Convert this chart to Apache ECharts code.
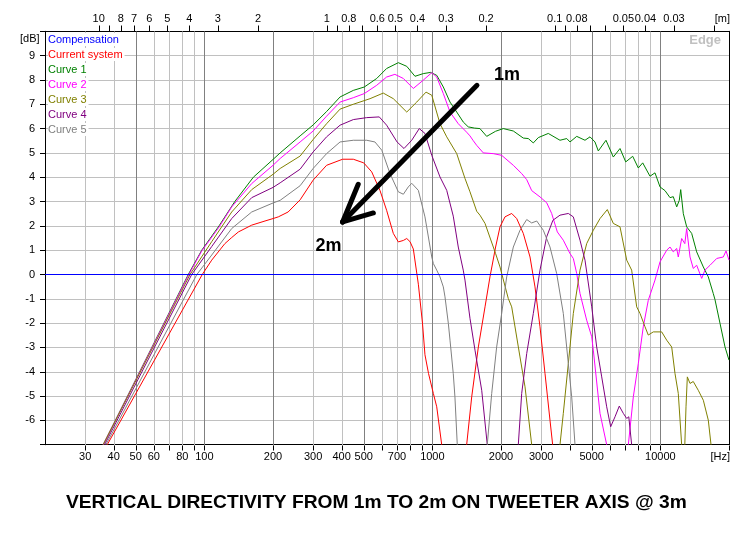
<!DOCTYPE html>
<html><head><meta charset="utf-8">
<script src="https://cdn.jsdelivr.net/npm/echarts/dist/echarts.min.js"></script>
<style>html,body{margin:0;padding:0;background:#fff}#c{width:746px;height:541px}</style>
</head><body><div id="c"></div>
<script>
// ---------- axis definitions ----------
const X_MIN = 20, X_MAX = 20000, Y_MIN = -7, Y_MAX = 10;
const SOUND_SPEED = 344; // m/s, for the wavelength axis
const HZ_GRID = [30,40,50,60,70,80,90,100,200,300,400,500,600,700,800,900,1000,2000,3000,4000,5000,6000,7000,8000,9000,10000,20000];
const HZ_MAJOR = [50,100,200,500,1000,2000,5000,10000];
const HZ_LABELS = [30,40,50,60,80,100,200,300,400,500,700,1000,2000,3000,5000,10000];
const M_TICKS = [10,9,8,7,6,5,4,3,2,1,0.9,0.8,0.7,0.6,0.5,0.4,0.3,0.2,0.1,0.09,0.08,0.07,0.06,0.05,0.04,0.03,0.02];
const M_LABELS = [10,8,7,6,5,4,3,2,1,0.8,0.6,0.5,0.4,0.3,0.2,0.1,0.08,0.05,0.04,0.03];

// ---------- series ([Hz, dB]) ----------
const SERIES_NAMES = ['Compensation','Current system','Curve 1','Curve 2','Curve 3','Curve 4','Curve 5'];
const COMPENSATION = [[20,0],[20000,0]];
const CURRENT_SYSTEM = [[37.5,-7],[97.9,0],[107.7,0.59],[123,1.27],[131.8,1.52],[141,1.75],[161.3,2.03],[184.5,2.2],[200,2.3],[211,2.37],[233,2.57],[263,3.07],[300,3.88],[343.6,4.49],[404,4.74],[450,4.74],[500,4.59],[542,4.22],[589,3.46],[630,2.64],[674,1.69],[709,1.34],[746,1.4],[772,1.48],[798,1.35],[825,1.05],[868,-0.4],[905,-2.0],[928,-3.3],[962,-4.07],[1010,-4.89],[1045,-5.44],[1099,-7],'-',[1414,-7],[1488,-5.03],[1591,-2.98],[1702,-1.33],[1789,-0.1],[1894,1.13],[1980,1.96],[2082,2.37],[2228,2.51],[2344,2.3],[2505,1.69],[2681,0.72],[2819,-0.51],[2965,-2.15],[3119,-4.07],[3280,-5.99],[3370,-7]];
const CURVE_1 = [[36,-7],[85,0],[97.4,1],[116,2],[136,3],[164,4],[200,4.73],[215,5.0],[263,5.7],[300,6.15],[343.6,6.7],[393.7,7.3],[450,7.57],[503,7.71],[570,8.06],[630,8.47],[709,8.71],[772,8.56],[839,8.15],[912,8.26],[983,8.31],[1045,8.19],[1117,7.71],[1195,7.09],[1279,6.68],[1366,6.27],[1437,6.07],[1530,6.02],[1617,6.0],[1731,5.68],[1894,5.89],[2047,6.0],[2265,5.9],[2505,5.61],[2635,5.59],[2772,5.41],[2916,5.63],[3224,5.8],[3629,5.52],[3885,5.59],[4015,5.45],[4297,5.68],[4671,5.52],[4914,5.66],[5167,5.45],[5343,5.08],[5775,5.52],[6217,4.83],[6653,5.18],[7048,4.63],[7563,4.86],[8003,4.38],[8367,4.59],[9006,4.04],[9472,4.18],[9965,3.6],[10479,3.45],[11024,3.16],[11394,3.2],[11794,2.78],[12106,3.05],[12281,3.49],[12608,2.5],[13045,1.96],[13720,1.69],[14430,0.93],[15430,0.31],[16227,-0.1],[17060,-0.78],[17360,-1.03],[18267,-2.01],[19210,-2.98],[20000,-3.52]];
const CURVE_2 = [[36,-7],[85.5,0],[97.4,0.97],[116,1.95],[131.8,2.78],[161.3,3.74],[200,4.49],[215,4.77],[263,5.45],[300,5.9],[343.6,6.51],[393.7,7.09],[450,7.27],[503,7.44],[570,7.78],[630,8.12],[685,8.23],[746,8.06],[825,7.65],[912,7.99],[994,8.3],[1045,8.12],[1117,7.44],[1195,6.68],[1299,6.2],[1414,5.85],[1462,5.7],[1512,5.5],[1565,5.31],[1673,5.0],[1850,4.97],[2014,4.9],[2265,4.49],[2465,4.15],[2593,3.9],[2727,3.45],[2965,3.19],[3173,2.95],[3336,2.51],[3533,1.75],[3752,1.41],[4015,0.86],[4152,0.66],[4297,0.04],[4442,-0.78],[4751,-1.88],[5000,-2.56],[5081,-3.11],[5436,-5.71],[5816,-7],'-',[7236,-7],[7610,-5.03],[8003,-3.66],[8415,-2.15],[8852,-1.06],[9472,-0.23],[9965,0.52],[10661,1.0],[11024,1.13],[11394,0.93],[11794,1.07],[11985,0.72],[12400,1.48],[12800,1.27],[13045,1.89],[13492,0.72],[13940,0.25],[14430,0.38],[15180,-0.16],[15690,0.18],[16512,0.38],[17670,0.66],[18880,0.72],[19410,0.97],[20000,0.59]];
const CURVE_3 = [[36,-7],[86.5,0],[107.7,1.35],[131.8,2.57],[161.3,3.49],[200,4.12],[215,4.36],[263,4.87],[300,5.55],[343.6,6.2],[393.7,6.8],[450,7.0],[533,7.23],[609,7.46],[674,7.23],[772,6.68],[854,7.09],[938,7.5],[994,7.37],[1080,6.2],[1156,5.66],[1279,4.97],[1390,3.95],[1462,3.4],[1565,2.6],[1617,2.44],[1702,2.1],[1894,0.86],[1980,0.31],[2014,0.04],[2153,-0.99],[2228,-1.33],[2423,-3.39],[2549,-4.62],[2727,-7],'-',[3629,-7],[3752,-5.71],[3947,-3.66],[4152,-1.6],[4442,0.18],[4751,1.27],[5081,1.82],[5436,2.3],[5853,2.67],[6217,2.1],[6653,1.96],[7119,0.59],[7484,0.18],[7874,-1.33],[8142,-1.6],[8563,-2.15],[8852,-2.49],[9311,-2.36],[10135,-2.36],[10661,-2.7],[11213,-2.98],[11592,-4.07],[11985,-4.89],[12400,-7],'-',[12800,-7],[12956,-5.44],[13130,-4.21],[13492,-4.48],[13940,-4.4],[14663,-4.76],[15430,-5.17],[16227,-5.99],[16680,-7]];
const CURVE_4 = [[36.5,-7],[88,0],[107.7,1.15],[131.8,2.3],[161.3,3.16],[200,3.58],[215,3.77],[263,4.33],[300,5.04],[343.6,5.66],[393.7,6.14],[450,6.37],[515,6.45],[585,6.48],[630,6.14],[700,5.45],[751,5.18],[812,5.52],[876,6.0],[928,5.8],[994,4.9],[1080,4.01],[1156,3.46],[1235,2.4],[1299,1.13],[1366,0.18],[1390,-0.23],[1462,-1.8],[1538,-3.11],[1646,-4.76],[1741,-7],'-',[2382,-7],[2465,-4.89],[2593,-3.25],[2772,-1.6],[2965,0.18],[3173,1.55],[3378,2.23],[3629,2.44],[3947,2.51],[4152,2.37],[4442,1.41],[4671,0.59],[5000,-1.33],[5257,-2.98],[5530,-4.21],[5816,-5.44],[6055,-6.26],[6326,-5.85],[6605,-5.41],[6879,-5.71],[7119,-5.92],[7270,-5.85],[7484,-7]];
const CURVE_5 = [[37,-7],[92.7,0],[107.7,0.8],[131.8,1.89],[161.3,2.57],[200,2.94],[215,3.05],[263,3.65],[300,4.36],[343.6,4.97],[393.7,5.45],[450,5.52],[515,5.52],[560,5.45],[600,5.11],[652,4.15],[709,3.4],[746,3.3],[784,3.6],[812,3.75],[868,3.46],[928,2.37],[944,1.96],[994,0.72],[1010,0.45],[1045,0.18],[1080,-0.1],[1117,-0.51],[1136,-0.92],[1175,-2.01],[1195,-2.7],[1235,-4.07],[1256,-5.03],[1286,-7],'-',[1741,-7],[1821,-4.89],[1914,-2.98],[2014,-1.6],[2118,-0.1],[2265,1.13],[2423,1.82],[2593,2.26],[2727,2.12],[2869,2.2],[3066,1.82],[3280,1.13],[3509,0.04],[3752,-1.6],[3947,-3.66],[4084,-5.03],[4223,-7]];
const SERIES_DATA = [COMPENSATION, CURRENT_SYSTEM, CURVE_1, CURVE_2, CURVE_3, CURVE_4, CURVE_5];

// ---------- annotations (data coordinates) ----------
const ARROW_TAIL = [1569, 7.78];
const ARROW_TIP = [404, 2.16];
const ARROW_WING_A = [473, 3.71];
const ARROW_WING_B = [551, 2.53];
const LABEL_1M = [2124, 8.19];
const LABEL_2M = [350, 1.18];

// ---------- styles ----------
const COLORS = ['#0000ff','#ff0000','#008000','#ff00ff','#808000','#800080','#808080'];
const FONT = 'Arial, "Liberation Sans", sans-serif';
const GRID_MINOR = '#c0c0c0', GRID_MAJOR = '#808080';

const chart = echarts.init(document.getElementById('c'), null, {renderer: 'canvas'});

function hzRender(params, api) {
  const f = api.value(0);
  const t = api.coord([f, Y_MAX]);
  const b = api.coord([f, Y_MIN]);
  const x = Math.round(b[0]) + 0.5;
  const yt = Math.round(t[1]) + 0.5, yb = Math.round(b[1]) + 0.5;
  const ch = [];
  if (f < X_MAX) {
    ch.push({type: 'line', shape: {x1: x, y1: yt, x2: x, y2: yb},
      style: {stroke: HZ_MAJOR.includes(f) ? GRID_MAJOR : GRID_MINOR, lineWidth: 1}});
  }
  ch.push({type: 'line', shape: {x1: x, y1: yb, x2: x, y2: yb + 5}, style: {stroke: '#000', lineWidth: 1}});
  if (HZ_LABELS.includes(f)) {
    ch.push({type: 'text', x: b[0], y: b[1] + 12,
      style: {text: String(f), align: 'center', verticalAlign: 'middle', textAlign: 'center', textVerticalAlign: 'middle',
        fontSize: 11, fontFamily: FONT, fill: '#000'}});
  }
  if (f === X_MAX) {
    ch.push({type: 'text', x: b[0] + 1, y: b[1] + 12,
      style: {text: '[Hz]', align: 'right', verticalAlign: 'middle', textAlign: 'right', textVerticalAlign: 'middle',
        fontSize: 11, fontFamily: FONT, fill: '#000'}});
  }
  return {type: 'group', children: ch};
}

function mRender(params, api) {
  const f = api.value(0);
  const m = api.value(2);
  const t = api.coord([f, Y_MAX]);
  const x = Math.round(t[0]) + 0.5;
  const yt = Math.round(t[1]) + 0.5;
  const ch = [];
  ch.push({type: 'line', shape: {x1: x, y1: yt - 6, x2: x, y2: yt}, style: {stroke: '#000', lineWidth: 1}});
  if (M_LABELS.includes(m)) {
    ch.push({type: 'text', x: t[0], y: t[1] - 12,
      style: {text: String(m), align: 'center', verticalAlign: 'middle', textAlign: 'center', textVerticalAlign: 'middle',
        fontSize: 11, fontFamily: FONT, fill: '#000'}});
  }
  if (m === M_TICKS[M_TICKS.length - 1]) {
    const r = api.coord([X_MAX, Y_MAX]);
    ch.push({type: 'text', x: r[0] + 1, y: r[1] - 12,
      style: {text: '[m]', align: 'right', verticalAlign: 'middle', textAlign: 'right', textVerticalAlign: 'middle',
        fontSize: 11, fontFamily: FONT, fill: '#000'}});
  }
  return {type: 'group', children: ch};
}

const lineSeries = SERIES_NAMES.map((name, i) => {
  const s = {
    type: 'line', name: name, data: SERIES_DATA[i],
    showSymbol: false, symbol: 'none', clip: true, connectNulls: false,
    lineStyle: {width: 1, color: COLORS[i]}, itemStyle: {color: COLORS[i]},
    emphasis: {disabled: true}, animation: false, z: i === 0 ? 4 : 3
  };
  if (i === 0) {
    s.markLine = {
      silent: true, symbol: ['none', 'none'], animation: false,
      label: {show: false},
      lineStyle: {color: '#000', width: 5, type: 'solid', cap: 'round'},
      emphasis: {disabled: true},
      data: [
        [{coord: ARROW_TAIL}, {coord: ARROW_TIP}],
        [{coord: ARROW_TIP}, {coord: ARROW_WING_A}],
        [{coord: ARROW_TIP}, {coord: ARROW_WING_B}]
      ]
    };
    s.markPoint = {
      silent: true, symbol: 'circle', symbolSize: 0, animation: false,
      label: {show: true, position: 'inside', formatter: '{b}', fontSize: 18, fontWeight: 'bold', fontFamily: FONT, color: '#000'},
      data: [{name: '1m', coord: LABEL_1M}, {name: '2m', coord: LABEL_2M}]
    };
  }
  return s;
});

const option = {
  backgroundColor: '#fff',
  animation: false,
  textStyle: {fontFamily: FONT},
  title: {
    text: 'VERTICAL DIRECTIVITY FROM 1m TO 2m ON TWEETER AXIS @ 3m',
    left: 61, top: 488,
    textStyle: {fontSize: 19.2, fontWeight: 'bold', fontFamily: FONT, color: '#000'}
  },
  grid: {left: 45, top: 31.3, right: 17, height: 413.44, containLabel: false, outerBoundsMode: 'none'},
  legend: {
    orient: 'vertical', left: 43, top: 33, padding: 0, itemGap: 2,
    itemWidth: 0, itemHeight: 13, icon: 'none', selectedMode: false,
    data: SERIES_NAMES.map((n, i) => ({name: n, textStyle: {color: COLORS[i]}})),
    textStyle: {fontSize: 11, fontFamily: FONT, backgroundColor: '#fff', padding: [1, 2, 1, 0]}
  },
  xAxis: [
    {type: 'log', logBase: 10, min: X_MIN, max: X_MAX, position: 'bottom',
      axisLine: {show: true, onZero: false, lineStyle: {color: '#000', width: 1}},
      axisTick: {show: false}, axisLabel: {show: false}, splitLine: {show: false}, minorTick: {show: false}},
    {type: 'log', logBase: 10, min: X_MIN, max: X_MAX, position: 'top',
      axisLine: {show: true, onZero: false, lineStyle: {color: '#000', width: 1}},
      axisTick: {show: false}, axisLabel: {show: false}, splitLine: {show: false}}
  ],
  yAxis: [
    {type: 'value', min: Y_MIN, max: Y_MAX, interval: 1, position: 'left',
      axisLine: {show: true, onZero: false, lineStyle: {color: '#000', width: 1}},
      axisTick: {show: true, inside: false, length: 5, lineStyle: {color: '#000'}},
      axisLabel: {show: true, margin: 10, fontSize: 11, fontFamily: FONT, color: '#000',
        formatter: v => (v <= Y_MIN || v >= Y_MAX) ? '' : String(v)},
      splitLine: {show: true, lineStyle: {color: GRID_MINOR, width: 1}}},
    {type: 'value', min: Y_MIN, max: Y_MAX, interval: 1, position: 'right',
      axisLine: {show: true, onZero: false, lineStyle: {color: '#000', width: 1}},
      axisTick: {show: false}, axisLabel: {show: false}, splitLine: {show: false}}
  ],
  graphic: [
    {type: 'text', left: 20, top: 33, style: {text: '[dB]', fontSize: 11, fontFamily: FONT, fill: '#000'}},
    {type: 'text', right: 25, top: 34, style: {text: 'Edge', fontSize: 13, fontWeight: 'bold', fontFamily: FONT, fill: '#c0c0c0'}}
  ],
  series: [
    {type: 'custom', name: 'hzGrid', silent: true, clip: false, z: 1, animation: false,
      data: HZ_GRID.map(f => [f, 0]), encode: {x: 0, y: 1}, renderItem: hzRender},
    {type: 'custom', name: 'mAxis', silent: true, clip: false, z: 1, animation: false,
      data: M_TICKS.map(m => [SOUND_SPEED / m, 0, m]), encode: {x: 0, y: 1}, renderItem: mRender}
  ].concat(lineSeries)
};
chart.setOption(option);
</script></body></html>
